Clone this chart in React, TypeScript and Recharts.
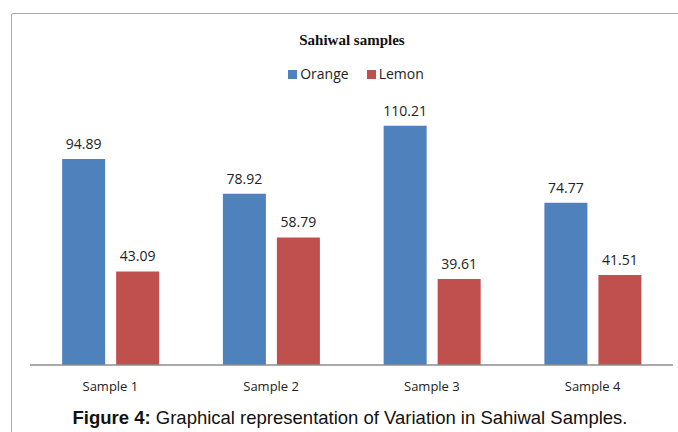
import { BarChart, Bar, XAxis, YAxis, LabelList } from 'recharts'

const categories = ['Sample 1', 'Sample 2', 'Sample 3', 'Sample 4']
const orangeValues = [94.89, 78.92, 110.21, 74.77]
const lemonValues = [43.09, 58.79, 39.61, 41.51]

const seriesNames = ['Orange', 'Lemon']
const seriesColors = ['#4F81BD', '#C0504D']

const data = categories.map((name, i) => ({
  name,
  orange: orangeValues[i],
  lemon: lemonValues[i],
}))

const textFont = '"Open Sans", "Noto Sans", sans-serif'

function ChartLegend() {
  return (
    <div
      style={{
        position: 'absolute',
        left: 0,
        width: 712,
        top: 64,
        display: 'flex',
        justifyContent: 'center',
        gap: 18,
        fontFamily: textFont,
        fontSize: 14,
        lineHeight: '20px',
        color: '#222',
      }}
    >
      {seriesNames.map((n, i) => (
        <span key={n} style={{ display: 'inline-flex', alignItems: 'center', gap: 3 }}>
          <span style={{ width: 9, height: 9, background: seriesColors[i], display: 'inline-block' }} />
          <span>{n}</span>
        </span>
      ))}
    </div>
  )
}

export default function App() {
  return (
    <div
      style={{
        position: 'absolute',
        left: 0,
        top: 0,
        width: 678,
        height: 432,
        background: '#fff',
        overflow: 'hidden',
      }}
    >
      {/* frame around the figure */}
      <div
        style={{
          position: 'absolute',
          left: 11,
          top: 13,
          width: 720,
          height: 500,
          border: '1px solid #a8a8a8',
          borderRadius: 2,
        }}
      />
      <div
        style={{
          position: 'absolute',
          left: 0,
          width: 704,
          top: 32,
          textAlign: 'center',
          fontFamily: '"Liberation Serif", "Times New Roman", serif',
          fontWeight: 'bold',
          fontSize: 15,
          color: '#111',
        }}
      >
        Sahiwal samples
      </div>
      <ChartLegend />
      <div style={{ position: 'absolute', left: 0, top: 0 }}>
        <BarChart
          width={678}
          height={432}
          data={data}
          margin={{ top: 104.6, right: 5, left: 30, bottom: 37 }}
          barCategoryGap="20%"
          barGap={11}
        >
          <XAxis
            dataKey="name"
            height={30}
            axisLine={{ stroke: '#8c8c8c', strokeWidth: 1.5 }}
            tickLine={false}
            tickMargin={11}
            tick={{ fontSize: 13, fill: '#222', fontFamily: textFont }}
          />
          <YAxis hide domain={[0, 120]} />
          <Bar dataKey="orange" name="Orange" fill={seriesColors[0]} isAnimationActive={false}>
            <LabelList
              dataKey="orange"
              position="top"
              offset={10}
              style={{ fontSize: 14, fill: '#222', fontFamily: textFont }}
            />
          </Bar>
          <Bar dataKey="lemon" name="Lemon" fill={seriesColors[1]} isAnimationActive={false}>
            <LabelList
              dataKey="lemon"
              position="top"
              offset={10}
              style={{ fontSize: 14, fill: '#222', fontFamily: textFont }}
            />
          </Bar>
        </BarChart>
      </div>
      <div
        style={{
          position: 'absolute',
          left: 0,
          width: 700,
          top: 407,
          textAlign: 'center',
          fontFamily: '"Liberation Sans", Arial, sans-serif',
          fontSize: 18.5,
          lineHeight: '21px',
          color: '#111',
        }}
      >
        <b>Figure 4:</b> Graphical representation of Variation in Sahiwal Samples.
      </div>
    </div>
  )
}
